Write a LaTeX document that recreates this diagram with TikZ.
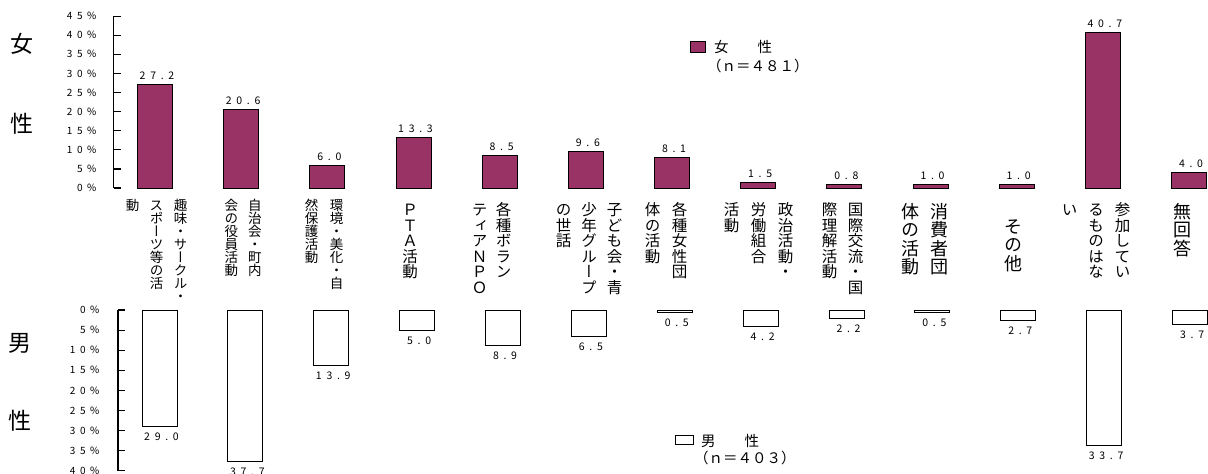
\documentclass[tikz,border=0pt]{standalone}
\usepackage{fontspec}
\newfontfamily\jfont{Noto Sans CJK JP}
\newfontfamily\numfont[LetterSpace=45]{Noto Sans CJK JP}
\newfontfamily\tatefont[RawFeature={+vert}]{Noto Sans CJK JP}
\definecolor{plum}{HTML}{993366}

% one column of vertical text, one character per cell
\newcommand\tatecol[1]{\vtop{\offinterlineskip\tateloop#1\relax}}
\def\tateloop#1{\ifx#1\relax\else
  \hbox to 1em{\hss\vrule height .88em depth .12em width 0pt\relax#1\hss}%
  \kern\tategap\expandafter\tateloop\fi}
\def\tategap{0pt}

\begin{document}
\begin{tikzpicture}[x=1pt, y=-1pt,
  every node/.style={inner sep=0pt, font=\jfont},
  axisline/.style={line width=1.2pt},
  fbar/.style={draw, line width=1pt, fill=plum},
  mbar/.style={draw, line width=1pt, fill=white},
  vallabel/.style={anchor=base, font=\numfont\fontsize{10.5}{11}\selectfont},
  ticklabel/.style={anchor=east, font=\numfont\fontsize{10}{10}\selectfont},
  sexlabel/.style={font=\jfont\fontsize{23}{23}\selectfont},
  keytext/.style={anchor=west, font=\jfont\fontsize{14.5}{14.5}\selectfont},
  catsmall/.style={anchor=north, font=\tatefont\fontsize{13.5}{13.5}\selectfont\def\tategap{-0.5pt}},
  catmid/.style={anchor=north, font=\tatefont\fontsize{15.5}{15.5}\selectfont\def\tategap{0pt}},
  catbig/.style={anchor=north, font=\tatefont\fontsize{18}{18}\selectfont\def\tategap{0.5pt}}]
  \useasboundingbox (0,0) rectangle (1208,474);

  % side titles
  \node[sexlabel] (fsex1) at (22,44) {女};
  \node[sexlabel] (fsex2) at (22,124) {性};
  \node[sexlabel] (msex1) at (20,343) {男};
  \node[sexlabel] (msex2) at (20,421) {性};

  % axes
  \draw[axisline] (113.5,16) -- (113.5,188);
  \foreach \k in {0,...,9} {
    \pgfmathsetmacro\ty{188-3.82*5*\k}
    \pgfmathtruncatemacro\pc{5*\k}
    \draw[axisline] (113.5,\ty) -- (120.5,\ty);
    \node[ticklabel] (ftick\k) at (96.5,\ty) {\pc\%};
  }
  \draw[axisline] (118,310) -- (118,471);
  \foreach \k in {0,...,8} {
    \pgfmathsetmacro\ty{310+4.02*5*\k}
    \pgfmathtruncatemacro\pc{5*\k}
    \draw[axisline] (118,\ty) -- (125,\ty);
    \node[ticklabel] (mtick\k) at (99.5,\ty) {\pc\%};
  }

  % bars: women up, men down
  \foreach \f/\m [count=\i from 0] in {27.2/29.0, 20.6/37.7, 6.0/13.9,
      13.3/5.0, 8.5/8.9, 9.6/6.5, 8.1/0.5, 1.5/4.2, 0.8/2.2, 1.0/0.5,
      1.0/2.7, 40.7/33.7, 4.0/3.7} {
    \pgfmathsetmacro\fx{155+86.17*\i}
    \pgfmathsetmacro\mx{159.5+85.88*\i}
    \draw[fbar] (\fx-17.5,188) rectangle (\fx+17.5,188-3.82*\f);
    \node[vallabel] (fval\i) at (\fx+2,188-3.82*\f-5) {\f};
    \draw[mbar] (\mx-17.5,310) rectangle (\mx+17.5,310+4.02*\m);
    \node[vallabel] (mval\i) at (\mx+2,310+4.02*\m+14) {\m};
  }

  % legends
  \node[draw, fill=plum, line width=1pt, minimum width=15pt, minimum height=11pt]
    (fkey) at (697.5,46.5) {};
  \node[keytext] (fkeyname) at (714,47) {女　　性};
  \node[keytext] (fkeyn) at (707,66) {（ｎ＝４８１）};
  \node[draw, fill=white, line width=1pt, minimum width=18pt, minimum height=9pt]
    (mkey) at (684,439.5) {};
  \node[keytext] (mkeyname) at (701,441) {男　　性};
  \node[keytext] (mkeyn) at (694,458) {（ｎ＝４０３）};

  % category labels, vertical
  \node[catsmall] (cat1) at (156.5,198)
    {\tatecol{動}\hspace{10.5pt}\tatecol{スポーツ等の活}\hspace{10.5pt}\tatecol{趣味・サークル・}};
  \node[catsmall] (cat2) at (243,198)
    {\tatecol{会の役員活動}\hspace{10pt}\tatecol{自治会・町内}};
  \node[catsmall] (cat3) at (324,198)
    {\tatecol{然保護活動}\hspace{11.5pt}\tatecol{環境・美化・自}};
  \node[catmid] (cat4) at (410,202) {\tatecol{ＰＴＡ活動}};
  \node[catmid] (cat5) at (491.5,202)
    {\tatecol{ティアＮＰＯ}\hspace{8.5pt}\tatecol{各種ボラン}};
  \node[catmid] (cat6) at (589,202)
    {\tatecol{の世話}\hspace{10pt}\tatecol{少年グループ}\hspace{10pt}\tatecol{子ども会・青}};
  \node[catmid] (cat7) at (666,202)
    {\tatecol{体の活動}\hspace{11.5pt}\tatecol{各種女性団}};
  \node[catmid] (cat8) at (758.5,202)
    {\tatecol{活動}\hspace{11.5pt}\tatecol{労働組合}\hspace{11.5pt}\tatecol{政治活動・}};
  \node[catmid] (cat9) at (842.5,202)
    {\tatecol{際理解活動}\hspace{10.5pt}\tatecol{国際交流・国}};
  \node[catbig] (cat10) at (924.5,202)
    {\tatecol{体の活動}\hspace{11pt}\tatecol{消費者団}};
  \node[catbig] (cat11) at (1013.5,217) {\tatecol{その他}};
  \node[catmid] (cat12) at (1096,202)
    {\tatecol{い}\hspace{11pt}\tatecol{るものはな}\hspace{11pt}\tatecol{参加してい}};
  \node[catbig] (cat13) at (1182.5,202) {\tatecol{無回答}};
\end{tikzpicture}
\end{document}
